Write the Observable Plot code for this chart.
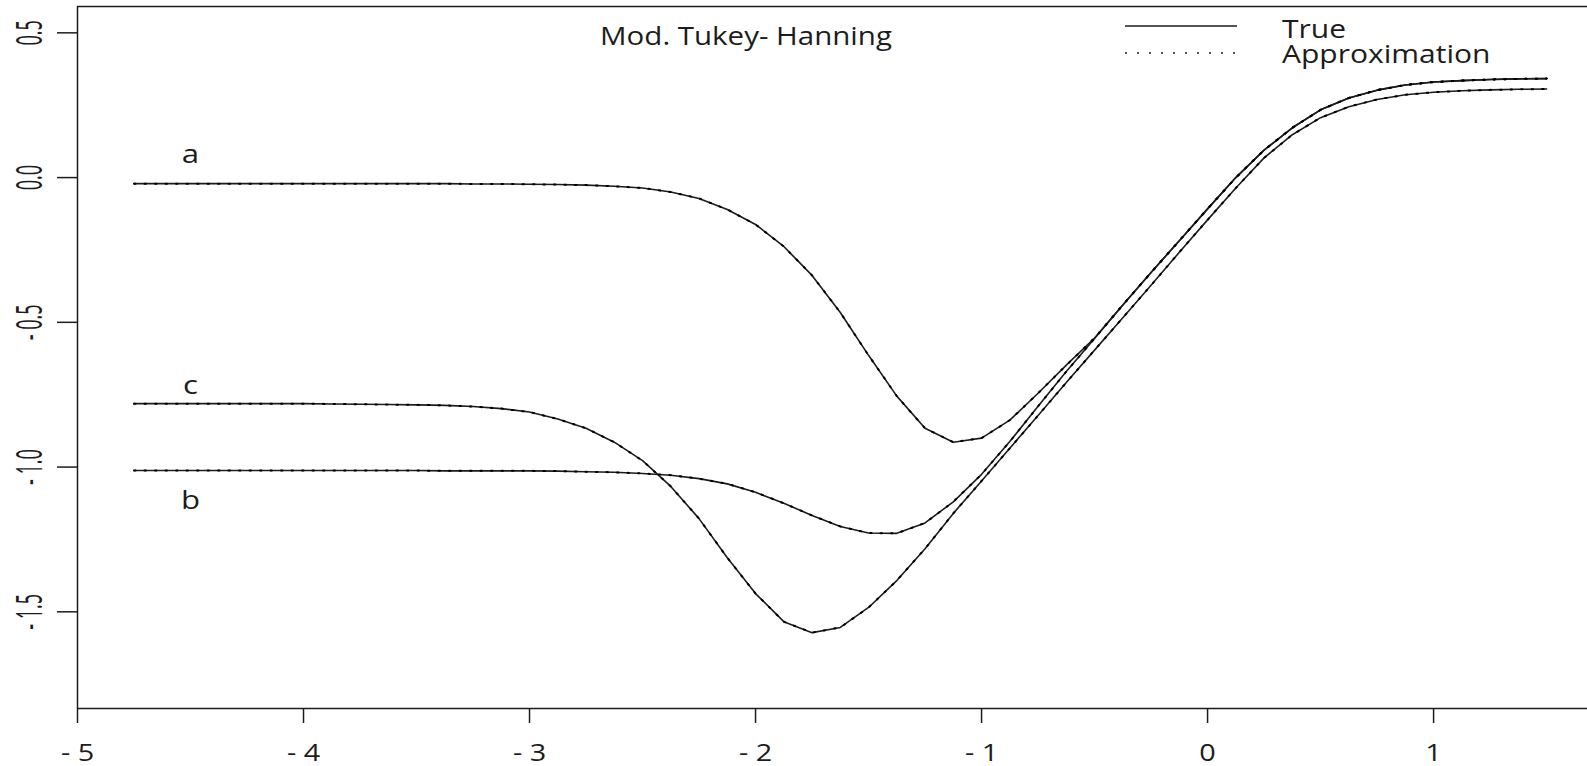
<!DOCTYPE html>
<html><head><meta charset="utf-8">
<script src="https://cdn.jsdelivr.net/npm/d3@7"></script>
<script src="https://cdn.jsdelivr.net/npm/@observablehq/plot@0.6"></script>
<style>
html,body{margin:0;padding:0;background:#fff;}
#chart{width:1587px;height:766px;}
</style></head><body><div id="chart"></div>
<script>
// ---- data ----
const xs = [-4.75,-4.625,-4.5,-4.375,-4.25,-4.125,-4,-3.875,-3.75,-3.625,-3.5,-3.375,-3.25,-3.125,-3,-2.875,-2.75,-2.625,-2.5,-2.375,-2.25,-2.125,-2,-1.875,-1.75,-1.625,-1.5,-1.375,-1.25,-1.125,-1,-0.875,-0.75,-0.625,-0.5,-0.375,-0.25,-0.125,0,0.125,0.25,0.375,0.5,0.625,0.75,0.875,1,1.125,1.25,1.375,1.5];
const seriesA = [-0.021,-0.021,-0.021,-0.021,-0.021,-0.021,-0.021,-0.021,-0.021,-0.021,-0.021,-0.021,-0.022,-0.022,-0.023,-0.024,-0.026,-0.030,-0.036,-0.050,-0.072,-0.110,-0.162,-0.238,-0.338,-0.466,-0.614,-0.755,-0.866,-0.914,-0.900,-0.838,-0.745,-0.648,-0.554,-0.440,-0.328,-0.218,-0.108,0.000,0.095,0.172,0.234,0.275,0.302,0.320,0.330,0.335,0.339,0.341,0.342];
const seriesB = [-1.012,-1.012,-1.012,-1.012,-1.012,-1.012,-1.012,-1.012,-1.012,-1.012,-1.012,-1.013,-1.013,-1.013,-1.013,-1.014,-1.016,-1.018,-1.022,-1.028,-1.040,-1.058,-1.087,-1.125,-1.167,-1.205,-1.228,-1.229,-1.193,-1.120,-1.025,-0.912,-0.790,-0.670,-0.556,-0.440,-0.328,-0.218,-0.108,0.000,0.095,0.172,0.234,0.275,0.302,0.320,0.330,0.335,0.339,0.341,0.342];
const seriesC = [-0.781,-0.781,-0.781,-0.781,-0.781,-0.781,-0.781,-0.782,-0.783,-0.784,-0.785,-0.787,-0.791,-0.798,-0.810,-0.834,-0.866,-0.914,-0.978,-1.067,-1.178,-1.313,-1.437,-1.534,-1.572,-1.554,-1.485,-1.392,-1.282,-1.160,-1.048,-0.935,-0.822,-0.708,-0.596,-0.484,-0.372,-0.258,-0.146,-0.036,0.068,0.148,0.207,0.245,0.270,0.286,0.295,0.300,0.303,0.305,0.306];
const seriesNames = ["a","b","c"];
const xTicks = [-5,-4,-3,-2,-1,0,1];
const yTicks = [0.5,0,-0.5,-1,-1.5];
const titleText = "Mod. Tukey- Hanning";
const legendLabels = ["True","Approximation"];

// ---- table for the library ----
const rows = [];
[seriesA, seriesB, seriesC].forEach((s, i) => s.forEach((v, j) => rows.push({x: xs[j], y: v, s: seriesNames[i]})));

// ---- layout / style ----
const xDomain = [-5, 1.681];
const yDomain = [-1.834, 0.591];
const ink = "#1c1c1c";
const font = "'Open Sans', 'DejaVu Sans', sans-serif";
const xFmt = d => d < 0 ? "- " + Math.abs(d) : String(d);
const yFmt = d => d < 0 ? "- " + Math.abs(d).toFixed(1) : d.toFixed(1);
const labelIndex = 2;
const labelSpec = [
  {name: "a", series: seriesA, dy: -29},
  {name: "c", series: seriesC, dy: -18},
  {name: "b", series: seriesB, dy: 30}
];

const plot = Plot.plot({
  width: 1587, height: 766,
  marginLeft: 77, marginRight: 0, marginTop: 6, marginBottom: 58,
  x: {domain: xDomain},
  y: {domain: yDomain},
  style: {fontFamily: font, color: ink, background: "#fff"},
  marks: [
    Plot.ruleY([yDomain[0], yDomain[1]], {stroke: ink, strokeWidth: 1.5}),
    Plot.ruleX([xDomain[0]], {stroke: ink, strokeWidth: 1.5}),
    Plot.axisX({ticks: xTicks, tickSize: 15, tickFormat: () => "", strokeWidth: 1.5, label: null}),
    Plot.axisY({ticks: yTicks, tickSize: 20, tickFormat: () => "", strokeWidth: 1.5, label: null}),
    Plot.text(xTicks, {x: d => d, text: xFmt, frameAnchor: "bottom", textAnchor: "middle", lineAnchor: "top",
      dy: 35, fontSize: 24, fill: ink, className: "xlab", ariaDescription: "xlab"}),
    Plot.text(yTicks, {y: d => d, text: yFmt, frameAnchor: "left", textAnchor: "middle", dx: -47, rotate: -90,
      fontSize: 37, fill: ink, className: "ylab", ariaDescription: "ylab"}),
    Plot.line(rows, {x: "x", y: "y", z: "s", stroke: ink, strokeWidth: 1.6}),
    Plot.line(rows, {x: "x", y: "y", z: "s", stroke: "#000", strokeWidth: 2, strokeDasharray: "1.5,9"}),
    ...labelSpec.map(l => Plot.text([l], {
      x: () => xs[labelIndex], y: d => d.series[labelIndex], text: d => d.name,
      dy: l.dy, fontSize: 26, fill: ink, className: "clab", ariaDescription: "clab"
    }))
  ]
});

// widen / narrow glyphs along the reading direction (keeps em-based line offsets)
function stretch(sel, sx, sy) {
  sel.each(function () {
    const t = d3.select(this);
    const tr = t.attr("transform") || "";
    t.attr("transform", `${tr} scale(${sx},${sy})`);
  });
}
const svg = d3.select(plot);
const pick = name => svg.selectAll(`g.${name} text, g[aria-description="${name}"] text`);
stretch(pick("xlab"), 1.2, 1);
stretch(pick("ylab"), 0.49, 1);
stretch(pick("clab"), 1.2, 1);

// title and legend
const deco = svg.append("g").attr("fill", ink).attr("font-family", font).attr("text-anchor", "start");
deco.append("text").attr("text-anchor", "middle").attr("font-size", 25)
  .attr("transform", "translate(746,45) scale(1.18,1)").text(titleText);
deco.append("line").attr("x1", 1125).attr("x2", 1237).attr("y1", 26).attr("y2", 26)
  .attr("stroke", ink).attr("stroke-width", 1.5);
deco.append("line").attr("x1", 1125).attr("x2", 1237).attr("y1", 53).attr("y2", 53)
  .attr("stroke", ink).attr("stroke-width", 1.5).attr("stroke-dasharray", "2,10");
deco.append("text").attr("font-size", 25).attr("text-anchor", "start")
  .attr("transform", "translate(1282,38) scale(1.2,1)").text(legendLabels[0]);
deco.append("text").attr("font-size", 25).attr("text-anchor", "start")
  .attr("transform", "translate(1282,63) scale(1.2,1)").text(legendLabels[1]);

document.getElementById("chart").appendChild(plot);
</script>
</body></html>
